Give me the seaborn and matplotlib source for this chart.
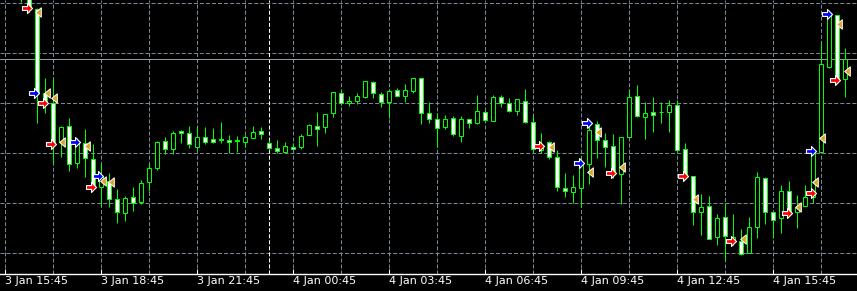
import numpy as np
import pandas as pd
import matplotlib
matplotlib.use("Agg")
import matplotlib.pyplot as plt
from matplotlib.path import Path
import seaborn as sns

# ---- data (prices in points, 1 point = 0.0001) ----
bar_index = list(range(2, 106))
open_pts = [13133, 13111, 13094, 13010, 13000, 12961, 12977, 12940, 12960, 12944,
            12916, 12922, 12904, 12890, 12906, 12901, 12921, 12935, 12962, 12954,
            12972, 12970, 12956, 12966, 12964, 12964, 12963, 12963, 12961, 12965,
            12972, 12960, 12955, 12951, 12956, 12956, 12968, 12977, 12976, 12990,
            13010, 13000, 13002, 13006, 13021, 13009, 13001, 13013, 13007, 13012,
            13025, 12990, 12984, 12976, 12985, 12967, 12984, 12980, 12991, 12982,
            13006, 13000, 12992, 13002, 12981, 12953, 12961, 12946, 12915, 12911,
            12915, 12939, 12979, 12963, 12957, 12929, 12966, 13007, 12986, 12991,
            12991, 12991, 12998, 12954, 12927, 12891, 12897, 12866, 12886, 12863,
            12862, 12850, 12876, 12925, 12891, 12885, 12912, 12891, 12897, 12906,
            12951, 13036, 13088, 13024]
high_pts = [13138, 13115, 13095, 13025, 13025, 12977, 12985, 12965, 12974, 12959,
            12940, 12930, 12914, 12907, 12916, 12923, 12940, 12962, 12966, 12972,
            12973, 12977, 12977, 12976, 12975, 12981, 12968, 12967, 12968, 12977,
            12976, 12963, 12963, 12961, 12960, 12969, 12979, 12991, 12989, 13011,
            13012, 13007, 13010, 13022, 13022, 13011, 13014, 13015, 13019, 13025,
            13025, 13001, 12990, 12988, 12987, 12987, 12984, 13008, 12993, 13008,
            13008, 13005, 13004, 13014, 12988, 12970, 12962, 12953, 12930, 12928,
            12946, 12980, 12982, 12970, 12969, 12966, 13013, 13018, 13001, 13006,
            13001, 13003, 13003, 12960, 12927, 12909, 12907, 12889, 12900, 12889,
            12874, 12886, 12931, 12926, 12891, 12918, 12922, 12908, 12918, 12951,
            13060, 13088, 13088, 13055]
low_pts = [13101, 13091, 12980, 12990, 12940, 12946, 12932, 12935, 12926, 12913,
           12897, 12896, 12880, 12882, 12892, 12899, 12912, 12933, 12949, 12949,
           12960, 12955, 12953, 12959, 12960, 12960, 12950, 12951, 12956, 12965,
           12964, 12953, 12950, 12951, 12953, 12954, 12968, 12957, 12970, 12986,
           12998, 12997, 12999, 13005, 13005, 12996, 12985, 13007, 13001, 13010,
           12979, 12980, 12956, 12974, 12967, 12961, 12975, 12979, 12981, 12982,
           12996, 12991, 12988, 12980, 12951, 12950, 12944, 12912, 12906, 12900,
           12896, 12919, 12945, 12936, 12925, 12899, 12966, 12986, 12964, 12971,
           12980, 12971, 12952, 12926, 12878, 12868, 12864, 12858, 12843, 12858,
           12848, 12850, 12865, 12879, 12865, 12870, 12887, 12875, 12897, 12900,
           12951, 13035, 13023, 13006]
close_pts = [13111, 13094, 13010, 13001, 12960, 12976, 12939, 12960, 12945, 12918,
             12926, 12904, 12891, 12905, 12900, 12920, 12935, 12961, 12954, 12970,
             12970, 12959, 12966, 12961, 12961, 12963, 12961, 12962.5, 12966, 12971,
             12969, 12955, 12952, 12957, 12954, 12967, 12978, 12974, 12989, 13011,
             13000, 13002, 13007, 13022, 13010, 13001, 13012, 13007, 13013, 13025,
             12990, 12984, 12975, 12984, 12969, 12984, 12980, 12992, 12983, 13006,
             13000, 12992, 13004, 12981, 12954, 12958, 12946, 12916, 12912, 12916,
             12940, 12973, 12963, 12956, 12930, 12966, 13006, 12987, 12990, 12988,
             12990.5, 12998, 12953, 12927, 12891, 12896, 12864, 12885, 12867, 12866,
             12849, 12876, 12926, 12891, 12883, 12912, 12891, 12896, 12906, 12951,
             13039, 13088, 13023, 13044]

# trade markers (bar position, price in points)
sell_x = [2.75, 4.75, 5.75, 10.75, 66.75, 75.75, 84.75, 90.75, 97.75, 100.75, 103.75]
sell_y = [13095, 13000, 12959, 12916, 12957, 12930, 12927, 12862, 12890, 12910, 13023]
buy_x = [3.6, 8.75, 11.6, 71.75, 72.75, 100.75, 102.75]
buy_y = [13010, 12961, 12927, 12940, 12980, 12952, 13089]
close_x = [4.1, 5.25, 6.1, 7.1, 10.25, 12.25, 13.25, 68.25, 73.1, 74.1, 77.1,
           86.25, 92.25, 99.1, 101.25, 102.1, 104.25, 105.25]
close_y = [13091, 13010, 13005, 12961, 12957, 12922, 12921, 12956, 12931, 12971,
           12936, 12904, 12864, 12896, 12921, 12965, 13079, 13032]

tick_bars = [0, 12, 24, 36, 48, 60, 72, 84, 96]
tick_labels = ["3 Jan 15:45", "3 Jan 18:45", "3 Jan 21:45", "4 Jan 00:45", "4 Jan 03:45",
               "4 Jan 06:45", "4 Jan 09:45", "4 Jan 12:45", "4 Jan 15:45"]
day_separator_bar = 33
grid_prices = [13100, 13050, 13000, 12950, 12900, 12850]

# ---- build ----
df = pd.DataFrame({"i": bar_index, "o": np.array(open_pts) / 1e4, "h": np.array(high_pts) / 1e4,
                   "l": np.array(low_pts) / 1e4, "c": np.array(close_pts) / 1e4})
df["bull"] = df["c"] >= df["o"]
df["bottom"] = df[["o", "c"]].min(axis=1)
df["height"] = (df["c"] - df["o"]).abs().clip(lower=0.00005)

sns.set_theme(style="dark")
plt.rcParams["font.family"] = ["DejaVu Sans"]
plt.rcParams["lines.scale_dashes"] = False

fig = plt.figure(figsize=(8.57, 2.91), dpi=100, facecolor="black")
ax = fig.add_axes([0, 17 / 291, 1, 274 / 291])
ax.set_facecolor("black")

green = "#00FF00"
grid_col = "#778899"
px = 0.72
dash = (0, (2.9, 1.45))

for gx in range(0, 107, 6):
    ax.axvline(gx, color=grid_col, lw=px, ls=dash, zorder=0)
for gy in grid_prices:
    ax.axhline(gy / 1e4, color=grid_col, lw=px, ls=dash, zorder=0)
ax.axvline(day_separator_bar, color="white", lw=px, ls=dash, zorder=0.5)
ax.axhline(df["c"].iloc[-1], color="#9a9a9a", lw=px, zorder=0.6)

ax.vlines(df["i"], df["l"], df["h"], color=green, lw=px, zorder=2)
ax.bar(df["i"], df["height"], bottom=df["bottom"], width=0.58,
       color=np.where(df["bull"], "black", "white"), edgecolor=green, linewidth=px, zorder=3)

arrow = Path([(-1, -0.38), (0.0, -0.38), (0.0, -1.0), (1, 0), (0.0, 1.0), (0.0, 0.38),
              (-1, 0.38), (-1, -0.38)],
             [Path.MOVETO] + [Path.LINETO] * 6 + [Path.CLOSEPOLY])
tri = Path([(0.6, -1), (0.6, 1), (-0.6, 0), (0.6, -1)],
           [Path.MOVETO, Path.LINETO, Path.LINETO, Path.CLOSEPOLY])

sns.scatterplot(x=sell_x, y=np.array(sell_y) / 1e4, marker=arrow, s=52, color="#FF0000",
                edgecolor="white", linewidth=0.8, ax=ax, zorder=5)
sns.scatterplot(x=buy_x, y=np.array(buy_y) / 1e4, marker=arrow, s=52, color="#0000FF",
                edgecolor="white", linewidth=0.8, ax=ax, zorder=5)
sns.scatterplot(x=close_x, y=np.array(close_y) / 1e4, marker=tri, s=46, color="goldenrod",
                edgecolor="white", linewidth=0.7, ax=ax, zorder=5)

ax.set_xlim(-0.625, 106.5)
ax.set_ylim(1.2829, 1.3103)
ax.grid(False)
for s in ["top", "left", "right"]:
    ax.spines[s].set_visible(False)
ax.spines["bottom"].set_color("white")
ax.spines["bottom"].set_linewidth(1.0)
ax.set_yticks([])
ax.set_xticks(tick_bars)
ax.set_xticklabels(tick_labels, ha="left", color="white", fontsize=8)
ax.tick_params(axis="x", direction="in", length=3.6, width=px, color="white", pad=1.5,
               bottom=True)
ax.set_xlabel("")
ax.set_ylabel("")

fig.savefig("out.png", dpi=100, facecolor="black")
